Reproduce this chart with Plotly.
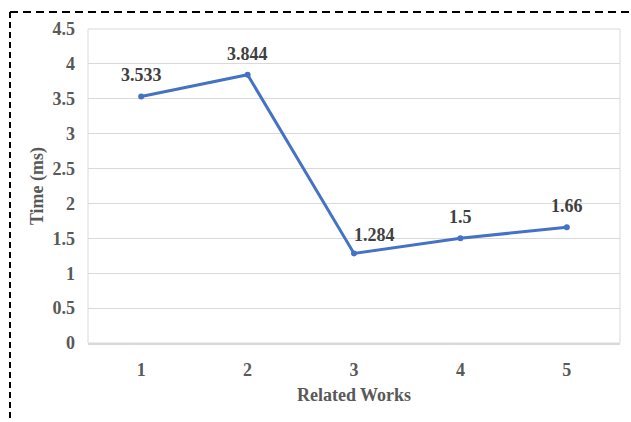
import plotly.graph_objects as go

# Processing time reported for each related work
works = [1, 2, 3, 4, 5]
time_ms = [3.533, 3.844, 1.284, 1.5, 1.66]
y_ticks = [0, 0.5, 1, 1.5, 2, 2.5, 3, 3.5, 4, 4.5]

W, H = 631, 422
ML, MR, MT, MB = 88, 11, 29, 79
PW, PH = W - ML - MR, H - MT - MB

FONT = "Liberation Serif"
GREY = "#595959"
GRID = "#d9d9d9"
BLUE = "#4472c4"


def px_x(px):
    return (px - ML) / PW


def px_y(py):
    return (H - MB - py) / PH


fig = go.Figure()
fig.add_trace(go.Scatter(
    x=works, y=time_ms, mode="lines+markers",
    line=dict(color=BLUE, width=3),
    marker=dict(color=BLUE, size=6),
    hoverinfo="skip", showlegend=False,
))

# value labels above each point; a label at a valley is nudged right off the line
for i, (xv, yv) in enumerate(zip(works, time_ms)):
    valley = 0 < i < len(time_ms) - 1 and time_ms[i - 1] > yv < time_ms[i + 1]
    fig.add_annotation(
        x=xv, y=yv, text=f"<b>{yv:g}</b>", showarrow=False,
        xshift=20 if valley else 0, yshift=18 if valley else 21,
        font=dict(family=FONT, size=18, color="#404040"),
    )

# dashed frame around the figure (top and left edges)
fig.add_shape(type="line", xref="paper", yref="paper",
              x0=px_x(10), y0=px_y(12), x1=px_x(W + 5), y1=px_y(12),
              line=dict(color="#000000", width=2, dash="8px,5px"))
fig.add_shape(type="line", xref="paper", yref="paper",
              x0=px_x(10), y0=px_y(12), x1=px_x(10), y1=px_y(H + 5),
              line=dict(color="#000000", width=2, dash="6px,4px"))
# plot-area border
fig.add_shape(type="rect", xref="paper", yref="paper", x0=0, y0=0, x1=1, y1=1,
              line=dict(color=GRID, width=1), layer="below")

fig.update_layout(
    width=W, height=H,
    margin=dict(l=ML, r=MR, t=MT, b=MB),
    paper_bgcolor="white", plot_bgcolor="white",
    font=dict(family=FONT, color=GREY),
)
fig.update_xaxes(
    range=[0.5, 5.5], tickvals=works, ticktext=[f"<b>{w}</b>" for w in works],
    tickfont=dict(size=18, color=GREY), showgrid=False, zeroline=False,
    showline=True, linecolor=GRID, linewidth=2, ticks="", ticklabelstandoff=9,
    title=dict(text="<b>Related Works</b>", font=dict(size=18, color=GREY), standoff=10),
)
fig.update_yaxes(
    range=[0, 4.5], tickvals=y_ticks, ticktext=[f"<b>{t:g}</b>" for t in y_ticks],
    tickfont=dict(size=18, color=GREY), showgrid=True, gridcolor=GRID, gridwidth=1,
    zeroline=False, showline=False, ticks="", ticklabelstandoff=12,
    title=dict(text="<b>Time (ms)</b>", font=dict(size=18, color=GREY), standoff=4),
)

fig.write_html("out.html")
